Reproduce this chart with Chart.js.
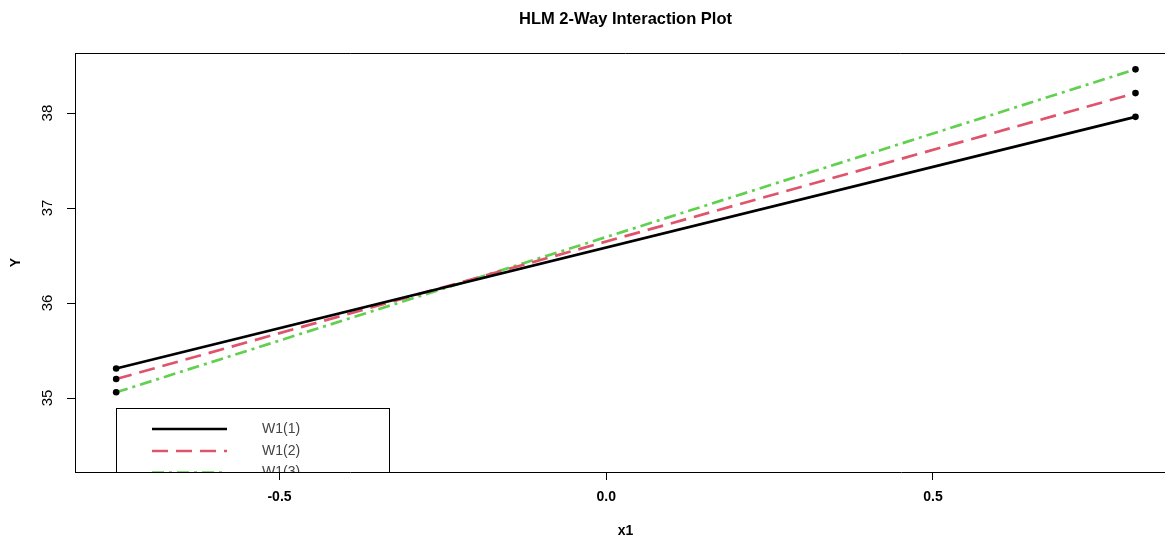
<!DOCTYPE html>
<html>
<head>
<meta charset="utf-8">
<script src="https://cdn.jsdelivr.net/npm/chart.js@4/dist/chart.umd.min.js"></script>
<style>
  html, body { margin: 0; padding: 0; background: #fff; overflow: hidden; }
  #wrap { width: 1200px; height: 537px; position: relative; }
</style>
</head>
<body>
<div id="wrap"><canvas id="c"></canvas></div>
<script>
// ---- data ----
const xValues = [-0.75, 0.81];
const seriesNames = ["W1(1)", "W1(2)", "W1(3)"];
const w1_1 = [35.31, 37.96];
const w1_2 = [35.20, 38.21];
const w1_3 = [35.06, 38.46];
const xTicks = [-0.5, 0.0, 0.5];
const yTicks = [35, 36, 37, 38];

const chartTitle = "HLM 2-Way Interaction Plot";
const xTitle = "x1";
const yTitle = "Y";

const colors = ["#000000", "#DF536B", "#61D04F"];
const dashes = [[], [16, 8], [12, 5, 3, 5]];
const seriesValues = [w1_1, w1_2, w1_3];

const datasets = seriesValues.map((vals, i) => ({
  label: seriesNames[i],
  data: xValues.map((x, j) => ({ x: x, y: vals[j] })),
  borderColor: colors[i],
  borderWidth: 2.7,
  borderDash: dashes[i],
  pointRadius: 3.3,
  pointBackgroundColor: "#000",
  pointBorderColor: "#000",
  pointBorderWidth: 0,
  showLine: true,
  fill: false,
  tension: 0
}));

const FONT = "'Liberation Sans', Arial, sans-serif";

const decor = {
  id: "decor",
  afterDatasetsDraw(chart) {
    const ctx = chart.ctx;
    const a = chart.chartArea;
    const ys = chart.scales.y;
    ctx.save();
    // top / right border
    ctx.strokeStyle = "#000";
    ctx.lineWidth = 1;
    ctx.beginPath();
    ctx.moveTo(a.left, a.top + 0.5);
    ctx.lineTo(a.right, a.top + 0.5);
    ctx.moveTo(a.right - 0.5, a.top);
    ctx.lineTo(a.right - 0.5, a.bottom);
    ctx.stroke();

    // legend, clipped to plot region
    ctx.save();
    ctx.beginPath();
    ctx.rect(a.left, a.top, a.right - a.left, a.bottom - a.top);
    ctx.clip();
    const bx = 116, by = 408, bw = 273, bh = 90;
    ctx.fillStyle = "#fff";
    ctx.fillRect(bx, by, bw, bh);
    ctx.strokeStyle = "#000";
    ctx.lineWidth = 1;
    ctx.strokeRect(bx + 0.5, by + 0.5, bw, bh);
    const rows = [429, 451, 472.5];
    seriesNames.forEach((name, i) => {
      ctx.strokeStyle = colors[i];
      ctx.lineWidth = 2.7;
      ctx.setLineDash(dashes[i]);
      ctx.beginPath();
      ctx.moveTo(152, rows[i]);
      ctx.lineTo(227, rows[i]);
      ctx.stroke();
      ctx.setLineDash([]);
      ctx.fillStyle = "#444";
      ctx.font = "14px " + FONT;
      ctx.textAlign = "left";
      ctx.textBaseline = "middle";
      ctx.fillText(name, 262, rows[i]);
    });
    ctx.restore();

    // y tick labels (rotated, R style)
    ctx.fillStyle = "#000";
    ctx.font = "15px " + FONT;
    ctx.textAlign = "center";
    ctx.textBaseline = "middle";
    yTicks.forEach(v => {
      const py = ys.getPixelForValue(v);
      ctx.save();
      ctx.translate(48, py);
      ctx.rotate(-Math.PI / 2);
      ctx.fillText(String(v), 0, 0);
      ctx.restore();
    });

    // title and axis titles
    const cx = (a.left + a.right) / 2;
    const cy = (a.top + a.bottom) / 2;
    ctx.font = "bold 16.5px " + FONT;
    ctx.fillText(chartTitle, cx, 19);
    ctx.font = "bold 14px " + FONT;
    ctx.fillText(xTitle, cx, 531);
    ctx.save();
    ctx.translate(16, cy);
    ctx.rotate(-Math.PI / 2);
    ctx.fillText(yTitle, 0, 0);
    ctx.restore();
    ctx.restore();
  }
};

new Chart(document.getElementById("c"), {
  type: "scatter",
  data: { datasets: datasets },
  options: {
    responsive: true,
    maintainAspectRatio: false,
    devicePixelRatio: 1,
    animation: false,
    layout: { padding: { top: 53, right: 24, left: 0, bottom: 0 } },
    plugins: {
      legend: { display: false },
      title: { display: false },
      tooltip: { enabled: false }
    },
    scales: {
      x: {
        type: "linear",
        min: -0.813,
        max: 0.872,
        afterFit(s) { s.height = 65; },
        afterBuildTicks(s) { s.ticks = xTicks.map(v => ({ value: v })); },
        border: { display: true, color: "#000", width: 1 },
        grid: { drawOnChartArea: false, drawTicks: true, tickLength: 8, color: "#000", tickColor: "#000" },
        ticks: {
          color: "#000",
          font: { family: FONT, size: 14, weight: "bold" },
          padding: 9,
          maxRotation: 0,
          callback: v => Number(v).toFixed(1)
        }
      },
      y: {
        type: "linear",
        min: 34.221,
        max: 38.632,
        afterFit(s) { s.width = 75; },
        afterBuildTicks(s) { s.ticks = yTicks.map(v => ({ value: v })); },
        border: { display: true, color: "#000", width: 1 },
        grid: { drawOnChartArea: false, drawTicks: true, tickLength: 8, color: "#000", tickColor: "#000" },
        ticks: { display: false }
      }
    }
  },
  plugins: [decor]
});
</script>
</body>
</html>
